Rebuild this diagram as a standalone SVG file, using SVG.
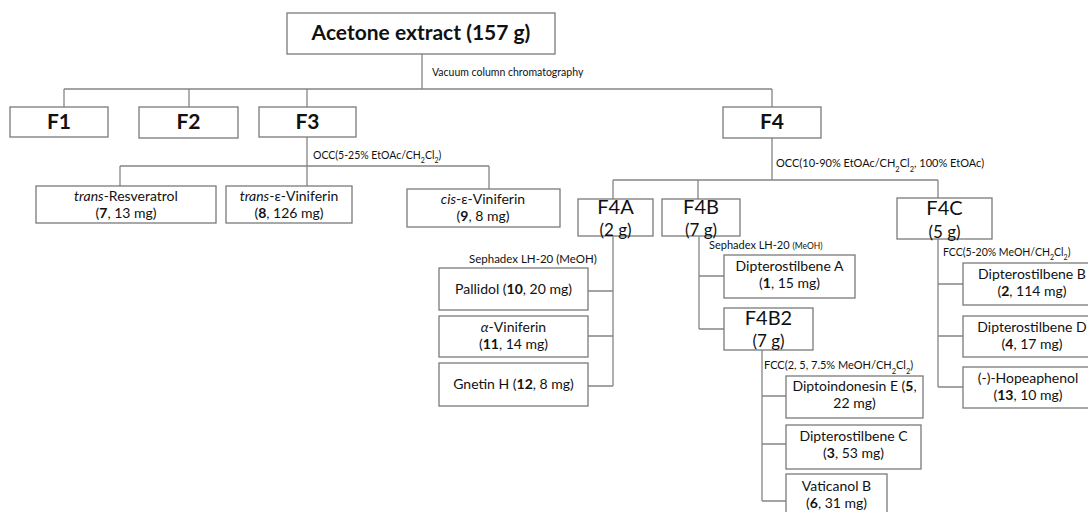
<svg xmlns="http://www.w3.org/2000/svg" width="1088" height="512" viewBox="0 0 1088 512">
<style>
.bx{fill:#fff;stroke:#7a7a7a;stroke-width:1.3}
.ln{fill:none;stroke:#858585;stroke-width:1.3}
text{font-family:Lato,"Liberation Sans",sans-serif;fill:#111}
.t{font-size:14px;text-anchor:middle}
.big{font-size:20px;text-anchor:middle}
.sm{font-size:17px;text-anchor:middle}
.bb{font-size:21px;font-weight:bold;text-anchor:middle}
.lb{font-size:10.5px}
.b{font-weight:bold}
.i{font-style:italic}
</style>
<rect width="1088" height="512" fill="#fff"/>
<g id="connectors">
<path class="ln" d="M422 54V89M64 89H772M64 89V107M189 89V107M307 89V107M772 89V107"/>
<path class="ln" d="M307 137V186M120 166H489M120 166V186M489 166V189"/>
<path class="ln" d="M772 138V180M613 180H938M613 180V199M698 180V199M938 180V198"/>
<path class="ln" d="M613 236V386M588 291H613M588 336H613M588 386H613"/>
<path class="ln" d="M699 236V329M699 276H724M699 329H724"/>
<path class="ln" d="M762 350V501M762 396H786M762 444H786M762 501H786"/>
<path class="ln" d="M938 239V387M938 284H963M938 336H963M938 387H963"/>
</g>
<g id="labels">
<text class="lb" x="432" y="76">Vacuum column chromatography</text>
<text class="lb" x="313" y="159">OCC(5-25% EtOAc/CH<tspan baseline-shift="sub" font-size="7">2</tspan>Cl<tspan baseline-shift="sub" font-size="7">2</tspan>)</text>
<text class="lb" x="776" y="167" style="font-size:11px">OCC(10-90% EtOAc/CH<tspan baseline-shift="sub" font-size="7.5">2</tspan>Cl<tspan baseline-shift="sub" font-size="7.5">2</tspan>, 100% EtOAc)</text>
<text class="lb" x="469" y="263" style="font-size:11.5px">Sephadex LH-20 (MeOH)</text>
<text class="lb" x="709" y="249" style="font-size:11px">Sephadex LH-20 <tspan font-size="8.5">(MeOH)</tspan></text>
<text class="lb" x="943" y="256">FCC(5-20% MeOH/CH<tspan baseline-shift="sub" font-size="7">2</tspan>Cl<tspan baseline-shift="sub" font-size="7">2</tspan>)</text>
<text class="lb" x="764" y="369" style="font-size:11px">FCC(2, 5, 7.5% MeOH/CH<tspan baseline-shift="sub" font-size="7.5">2</tspan>Cl<tspan baseline-shift="sub" font-size="7.5">2</tspan>)</text>
</g>
<g id="acetone"><rect class="bx" x="287" y="13" width="268" height="41"/><text class="bb" x="421" y="40">Acetone extract (157 g)</text></g>
<g id="F1"><rect class="bx" x="10" y="107" width="98" height="30"/><text class="bb" x="59" y="129">F1</text></g>
<g id="F2"><rect class="bx" x="139" y="107" width="99" height="31"/><text class="bb" x="188.5" y="129">F2</text></g>
<g id="F3"><rect class="bx" x="259" y="107" width="97" height="30"/><text class="bb" x="307.5" y="129">F3</text></g>
<g id="F4"><rect class="bx" x="723" y="107" width="98" height="31"/><text class="bb" x="772" y="129">F4</text></g>
<g id="c7"><rect class="bx" x="36" y="186" width="180" height="37"/><text class="t" x="126" y="201"><tspan class="i">trans</tspan>-Resveratrol</text><text class="t" x="126" y="218">(<tspan class="b">7</tspan>, 13 mg)</text></g>
<g id="c8"><rect class="bx" x="226" y="186" width="126" height="37"/><text class="t" x="289" y="201"><tspan class="i">trans</tspan>-ε-Viniferin</text><text class="t" x="289" y="218">(<tspan class="b">8</tspan>, 126 mg)</text></g>
<g id="c9"><rect class="bx" x="407" y="189" width="153" height="38"/><text class="t" x="483" y="204"><tspan class="i">cis</tspan>-ε-Viniferin</text><text class="t" x="483" y="221">(<tspan class="b">9</tspan>, 8 mg)</text></g>
<g id="F4A"><rect class="bx" x="578" y="199" width="75" height="37"/><text class="big" x="615.5" y="214">F4A</text><text class="sm" x="615.5" y="236">(2 g)</text></g>
<g id="F4B"><rect class="bx" x="662" y="199" width="78" height="37"/><text class="big" x="701" y="214">F4B</text><text class="sm" x="701" y="236">(7 g)</text></g>
<g id="F4C"><rect class="bx" x="897" y="198" width="95" height="41"/><text class="big" x="944.5" y="215">F4C</text><text class="sm" x="944.5" y="238">(5 g)</text></g>
<g id="c10"><rect class="bx" x="439" y="268" width="149" height="42"/><text class="t" x="513.5" y="294">Pallidol (<tspan class="b">10</tspan>, 20 mg)</text></g>
<g id="c11"><rect class="bx" x="439" y="316" width="149" height="41"/><text class="t" x="513.5" y="332"><tspan class="i">α</tspan>-Viniferin</text><text class="t" x="513.5" y="349">(<tspan class="b">11</tspan>, 14 mg)</text></g>
<g id="c12"><rect class="bx" x="439" y="363" width="149" height="43"/><text class="t" x="513.5" y="389">Gnetin H (<tspan class="b">12</tspan>, 8 mg)</text></g>
<g id="c1"><rect class="bx" x="724" y="255" width="131" height="43"/><text class="t" x="789.5" y="271">Dipterostilbene A</text><text class="t" x="789.5" y="288">(<tspan class="b">1</tspan>, 15 mg)</text></g>
<g id="F4B2"><rect class="bx" x="724" y="308" width="89" height="42"/><text class="big" x="768.5" y="325">F4B2</text><text class="sm" x="768.5" y="347">(7 g)</text></g>
<g id="c5"><rect class="bx" x="786" y="376" width="137" height="42"/><text class="t" x="854.5" y="391">Diptoindonesin E (<tspan class="b">5</tspan>,</text><text class="t" x="854.5" y="408">22 mg)</text></g>
<g id="c3"><rect class="bx" x="786" y="425" width="135" height="44"/><text class="t" x="853.5" y="441">Dipterostilbene C</text><text class="t" x="853.5" y="458">(<tspan class="b">3</tspan>, 53 mg)</text></g>
<g id="c6"><rect class="bx" x="786" y="474" width="101" height="42"/><text class="t" x="836.5" y="491">Vaticanol B</text><text class="t" x="836.5" y="508">(<tspan class="b">6</tspan>, 31 mg)</text></g>
<g id="c2"><rect class="bx" x="963" y="263" width="135" height="42"/><text class="t" x="1032" y="279">Dipterostilbene B</text><text class="t" x="1032" y="296">(<tspan class="b">2</tspan>, 114 mg)</text></g>
<g id="c4"><rect class="bx" x="963" y="316" width="135" height="41"/><text class="t" x="1032" y="332">Dipterostilbene D</text><text class="t" x="1032" y="349">(<tspan class="b">4</tspan>, 17 mg)</text></g>
<g id="c13"><rect class="bx" x="963" y="367" width="135" height="41"/><text class="t" x="1028" y="383">(-)-Hopeaphenol</text><text class="t" x="1028" y="400">(<tspan class="b">13</tspan>, 10 mg)</text></g>
</svg>
